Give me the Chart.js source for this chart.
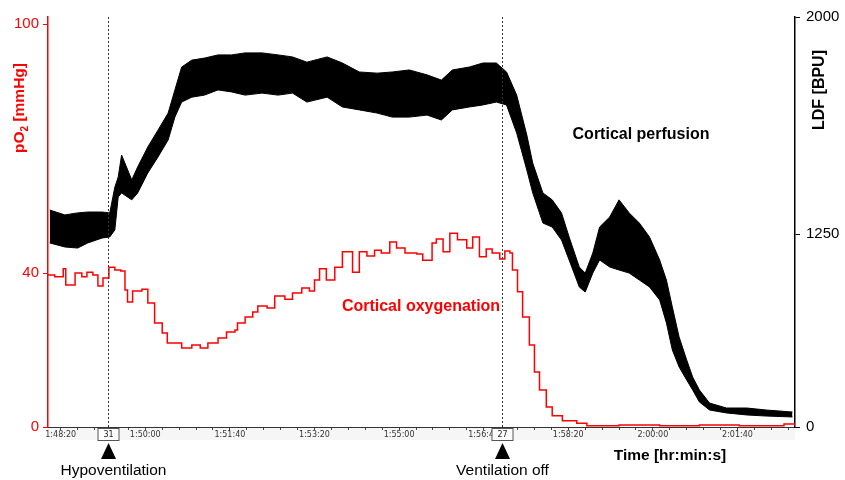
<!DOCTYPE html>
<html>
<head>
<meta charset="utf-8">
<script src="https://cdn.jsdelivr.net/npm/chart.js@4"></script>
<style>
  html, body { margin: 0; padding: 0; background: #ffffff; }
  canvas { display: block; }
</style>
</head>
<body>
<canvas id="c" width="845" height="480"></canvas>
<script>
// ---------- DATA ----------
// time in seconds since midnight (1:48:05 ... 2:02:48)
const ldfTime  = [6487,6505,6520,6532,6549,6558,6564,6568,6572,6584,6591,6603,6615,6627,6635,6643,6655,6670,6686,6702,6718,6738,6757,6774,6791,6815,6833,6853,6874,6892,6912,6933,6950,6963,6983,6999,7015,7027,7039,7051,7058,7070,7081,7092,7101,7113,7120,7129,7137,7149,7160,7172,7184,7196,7208,7216,7223,7231,7240,7247,7255,7267,7287,7311,7334,7365];
// LDF [BPU] envelope of the noisy perfusion trace
const ldfUpper = [1333,1316,1323,1326,1326,1323,1412,1447,1523,1437,1482,1551,1609,1668,1748,1827,1851,1858,1869,1869,1876,1876,1869,1862,1844,1862,1841,1810,1806,1810,1817,1800,1782,1817,1827,1841,1841,1810,1730,1592,1495,1392,1368,1323,1231,1036,997,1127,1274,1309,1368,1323,1288,1231,1082,952,777,583,434,324,240,155,123,123,110,97];
const ldfLower = [1192,1166,1159,1192,1224,1231,1264,1378,1392,1368,1392,1461,1516,1575,1654,1706,1723,1730,1748,1741,1730,1737,1730,1737,1706,1723,1689,1679,1668,1654,1654,1661,1644,1679,1689,1696,1706,1696,1599,1471,1392,1288,1274,1211,1082,907,874,997,1082,1036,1017,997,952,907,823,674,499,389,304,240,162,110,91,78,71,65];

const po2Time   = [6485,6493,6503,6506,6517,6525,6531,6538,6544,6550,6557,6564,6571,6576,6579,6585,6596,6603,6611,6620,6626,6643,6655,6665,6674,6686,6696,6706,6709,6718,6727,6733,6744,6753,6765,6774,6785,6794,6800,6806,6814,6824,6833,6839,6845,6853,6862,6871,6879,6889,6897,6907,6921,6928,6939,6944,6952,6960,6969,6980,6987,6995,7003,7010,7019,7025,7031,7034,7040,7046,7054,7060,7066,7074,7081,7093,7110,7122,7160,7208,7255,7302,7355,7368];
// pO2 [mmHg]
const po2Values = [39.5,39.0,41.0,36.9,40.0,39.0,40.2,39.5,36.6,38.7,41.4,40.7,40.5,35.6,32.5,35.3,35.8,32.2,27.0,24.4,21.8,20.5,21.3,20.5,21.8,23.1,24.7,25.2,27.0,28.6,29.9,31.4,30.9,34.0,33.2,34.8,36.1,35.3,38.2,41.0,38.2,41.4,45.1,45.1,40.2,45.1,44.1,45.5,44.8,47.5,46.0,44.8,44.6,43.1,47.2,48.2,45.1,49.6,48.0,46.0,48.7,43.9,45.8,44.8,43.4,45.3,44.8,40.7,35.1,28.6,21.3,14.3,9.6,5.2,2.9,1.6,1.0,0.3,0.5,0.3,0.5,0.3,0.8,0.3];

// tick labels
const tickTimes  = [6500,6600,6700,6800,6900,7000,7100,7200,7300];
const tickLabels = ['1:48:20','1:50:00','1:51:40','1:53:20','1:55:00','1:56:40','1:58:20','2:00:00','2:01:40'];
const po2Ticks = [0, 40, 100];
const po2TickLabels = ['0', '40', '100'];
const ldfTicks = [0, 1250, 2000];
const ldfTickLabels = ['0', '1250', '2000'];

// events
const eventTimes = [6556, 7022];
const eventCodes = ['31', '27'];
const eventNames = ['Hypoventilation', 'Ventilation off'];

// ---------- axis calibration (the original axes are not linear) ----------
const axisBreaks = {
  yL: [[0, 0], [40, 0.3756], [100, 0.9829]],
  yR: [[0, 0], [1250, 0.4707], [2000, 1]]
};

class PiecewiseScale extends Chart.LinearScale {
  _toDec(v) {
    const b = axisBreaks[this.id];
    let i = 1;
    while (i < b.length - 1 && v > b[i][0]) i++;
    const [v0, d0] = b[i - 1], [v1, d1] = b[i];
    return d0 + (v - v0) * (d1 - d0) / (v1 - v0);
  }
  getPixelForValue(v) {
    if (v === null || v === undefined || isNaN(v)) return NaN;
    return this.getPixelForDecimal(this._toDec(v));
  }
  getValueForPixel(p) {
    const d = this.getDecimalForPixel(p);
    const b = axisBreaks[this.id];
    let i = 1;
    while (i < b.length - 1 && d > b[i][1]) i++;
    const [v0, d0] = b[i - 1], [v1, d1] = b[i];
    return v0 + (d - d0) * (v1 - v0) / (d1 - d0);
  }
}
PiecewiseScale.id = 'piecewise';
PiecewiseScale.defaults = {};
Chart.register(PiecewiseScale);

const SANS = '"Liberation Sans", Arial, sans-serif';

const overlay = {
  id: 'overlay',
  beforeDraw(chart) {
    const { ctx, chartArea: a } = chart;
    ctx.save();
    ctx.fillStyle = '#f6f6f6';
    ctx.fillRect(a.left, a.bottom + 1, a.right - a.left, 12);
    ctx.restore();
  },
  afterDraw(chart) {
    const { ctx, chartArea: a } = chart;
    const xs = chart.scales.x;
    ctx.save();
    eventTimes.forEach((t, i) => {
      const px = Math.round(xs.getPixelForValue(t)) + 0.5;
      // dotted marker line
      ctx.strokeStyle = '#333';
      ctx.lineWidth = 1;
      ctx.setLineDash([2, 2]);
      ctx.beginPath();
      ctx.moveTo(px, a.top);
      ctx.lineTo(px, a.bottom);
      ctx.stroke();
      ctx.setLineDash([]);
      // code box
      ctx.fillStyle = '#fff';
      ctx.fillRect(px - 10.5, a.bottom + 1.5, 21, 12);
      ctx.strokeStyle = '#555';
      ctx.strokeRect(px - 10.5, a.bottom + 1.5, 21, 12);
      ctx.fillStyle = '#222';
      ctx.font = '8px "DejaVu Sans", sans-serif';
      ctx.textAlign = 'center';
      ctx.textBaseline = 'middle';
      ctx.fillText(eventCodes[i], px, a.bottom + 8);
      // triangle
      ctx.fillStyle = '#000';
      ctx.beginPath();
      ctx.moveTo(px, a.bottom + 16);
      ctx.lineTo(px + 7.5, a.bottom + 32);
      ctx.lineTo(px - 7.5, a.bottom + 32);
      ctx.closePath();
      ctx.fill();
      // event name
      ctx.font = '15.5px ' + SANS;
      ctx.fillText(eventNames[i], px + (i === 0 ? 5 : 0), 471);
    });

    ctx.textAlign = 'center';
    ctx.textBaseline = 'middle';
    // x title
    ctx.fillStyle = '#000';
    ctx.font = 'bold 15.5px ' + SANS;
    ctx.fillText('Time [hr:min:s]', 670, 456);
    // series labels
    ctx.font = 'bold 16px ' + SANS;
    ctx.fillText('Cortical perfusion', 641, 135);
    ctx.fillStyle = '#ff0000';
    ctx.fillText('Cortical oxygenation', 421, 307);

    // left axis title pO2 [mmHg] (rotated, subscript 2)
    ctx.save();
    ctx.translate(20, 108);
    ctx.rotate(-Math.PI / 2);
    ctx.fillStyle = '#ff0000';
    ctx.textAlign = 'left';
    ctx.textBaseline = 'middle';
    const big = 'bold 15.5px ' + SANS, small = 'bold 10px ' + SANS;
    ctx.font = big; const w1 = ctx.measureText('pO').width;
    ctx.font = small; const w2 = ctx.measureText('2').width;
    ctx.font = big; const w3 = ctx.measureText(' [mmHg]').width;
    let sx = -(w1 + w2 + w3) / 2;
    ctx.font = big; ctx.fillText('pO', sx, 0); sx += w1;
    ctx.font = small; ctx.fillText('2', sx, 5); sx += w2;
    ctx.font = big; ctx.fillText(' [mmHg]', sx, 0);
    ctx.restore();

    // right axis title
    ctx.save();
    ctx.translate(820, 90);
    ctx.rotate(-Math.PI / 2);
    ctx.fillStyle = '#000';
    ctx.font = 'bold 16px ' + SANS;
    ctx.textAlign = 'center';
    ctx.textBaseline = 'middle';
    ctx.fillText('LDF [BPU]', 0, 0);
    ctx.restore();

    ctx.restore();
  }
};

new Chart(document.getElementById('c'), {
  type: 'line',
  data: {
    datasets: [
      {
        label: 'Cortical oxygenation',
        data: po2Time.map((t, i) => ({ x: t, y: po2Values[i] })),
        yAxisID: 'yL',
        borderColor: '#ff0000',
        borderWidth: 1.5,
        pointRadius: 0,
        stepped: true,
        fill: false
      },
      {
        label: 'Cortical perfusion (upper)',
        data: ldfTime.map((t, i) => ({ x: t, y: ldfUpper[i] })),
        yAxisID: 'yR',
        borderColor: '#000',
        backgroundColor: '#000',
        borderWidth: 1,
        pointRadius: 0,
        tension: 0,
        fill: '+1'
      },
      {
        label: 'Cortical perfusion (lower)',
        data: ldfTime.map((t, i) => ({ x: t, y: ldfLower[i] })),
        yAxisID: 'yR',
        borderColor: '#000',
        borderWidth: 1,
        pointRadius: 0,
        tension: 0,
        fill: false
      }
    ]
  },
  options: {
    responsive: false,
    animation: false,
    layout: { padding: { top: 17, left: 0, right: 0, bottom: 0 } },
    plugins: { legend: { display: false }, tooltip: { enabled: false } },
    scales: {
      x: {
        type: 'linear',
        min: 6485,
        max: 7368,
        afterBuildTicks: s => {
          const t = [];
          for (let v = 6500; v <= 7368; v += 20) t.push({ value: v });
          s.ticks = t;
        },
        afterFit: s => { s.height = 53; },
        grid: { drawOnChartArea: false, drawTicks: true, tickLength: 3, color: '#444' },
        border: { display: true, color: '#333', width: 1 },
        ticks: {
          autoSkip: false,
          maxRotation: 0,
          padding: 0,
          color: '#333',
          font: { family: '"DejaVu Sans", sans-serif', size: 8 },
          callback: v => { const i = tickTimes.indexOf(v); return i >= 0 ? tickLabels[i] : ''; }
        }
      },
      yL: {
        type: 'piecewise',
        position: 'left',
        min: 0,
        max: 100,
        afterBuildTicks: s => { s.ticks = po2Ticks.map(v => ({ value: v })); },
        afterFit: s => { s.width = 48; },
        grid: { drawOnChartArea: false, drawTicks: true, tickLength: 5, color: '#ff0000' },
        border: { display: true, color: '#ff0000', width: 1.5 },
        ticks: {
          color: '#ff0000', padding: 4, font: { family: SANS, size: 15 },
          callback: v => po2TickLabels[po2Ticks.indexOf(v)]
        }
      },
      yR: {
        type: 'piecewise',
        position: 'right',
        min: 0,
        max: 2000,
        afterBuildTicks: s => { s.ticks = ldfTicks.map(v => ({ value: v })); },
        afterFit: s => { s.width = 50; },
        grid: { drawOnChartArea: false, drawTicks: true, tickLength: 5, color: '#000' },
        border: { display: true, color: '#000', width: 1.5 },
        ticks: {
          color: '#000', padding: 6, font: { family: SANS, size: 15 },
          callback: v => ldfTickLabels[ldfTicks.indexOf(v)]
        }
      }
    }
  },
  plugins: [overlay]
});
</script>
</body>
</html>
